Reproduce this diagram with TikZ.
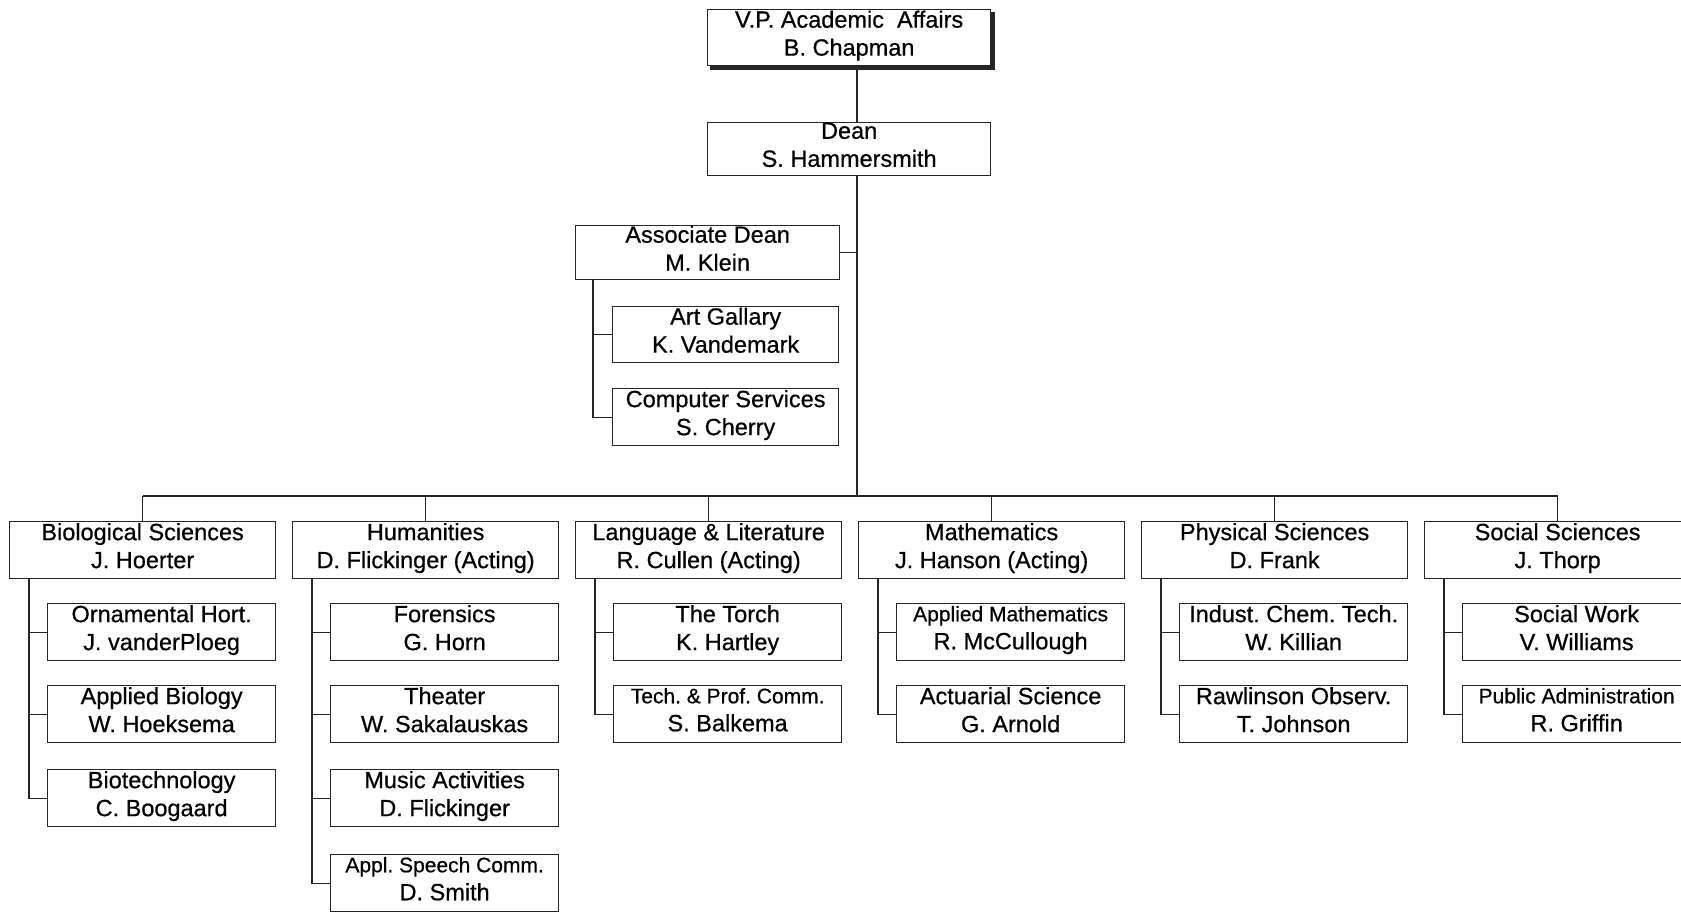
\documentclass[tikz,border=0pt]{standalone}
\usepackage{fontspec}
\setmainfont{Liberation Sans}[FakeBold=0.6]
\frenchspacing
\begin{document}
\begin{tikzpicture}[x=1pt,y=-1pt,
  box/.style={draw=black!85, line width=1.3pt, fill=white, align=center, inner sep=0pt, anchor=north west, font=\fontsize{23.5}{28}\selectfont\frenchspacing, execute at end node={\rule[-9pt]{0pt}{0pt}}},
  dept/.style={box, minimum width=266pt, minimum height=57pt},
  subbox/.style={box, minimum width=228pt, minimum height=57pt},
  conn/.style={draw=black!85, line width=1.3pt}]
\useasboundingbox (0,0) rectangle (1681,913);
\newcommand{\smline}[1]{{\fontsize{21}{28}\selectfont #1}}
% top
\node[box, minimum width=283pt, minimum height=56pt] (vp) at (707,9) {V.P. Academic\ \ Affairs\\B. Chapman};
\draw[black!85, line width=3.5pt] ([shift={(1.5,3)}]vp.north east) -- ([shift={(1.5,1.5)}]vp.south east) -- ([shift={(3,1.5)}]vp.south west);
\node[box, minimum width=283pt, minimum height=53pt] (dean) at (707,122) {Dean\\S. Hammersmith};
\node[box, minimum width=264pt, minimum height=53pt] (ad) at (575,225) {Associate Dean\\M. Klein};
\node[box, minimum width=226pt, minimum height=56pt] (art) at (612,306) {Art Gallary\\K. Vandemark};
\node[box, minimum width=226pt, minimum height=57pt] (cs) at (612,388) {Computer Services\\S. Cherry};
\coordinate (trunk) at (857,496);
\draw[conn] (vp.south -| trunk) -- (dean.north -| trunk);
\draw[conn] (dean.south -| trunk) -- (trunk);
\draw[conn] (ad.east) -- (ad.east -| trunk);
\coordinate (adsp) at ([xshift=18pt]ad.south west);
\draw[conn] (adsp) |- (cs.west);
\draw[conn] (adsp |- art.west) -- (art.west);
% departments
\node[dept] (bio) at (9,521) {Biological Sciences\\J. Hoerter};
\node[dept] (hum) at (292,521) {Humanities\\D. Flickinger (Acting)};
\node[dept] (lang) at (575,521) {Language \& Literature\\R. Cullen (Acting)};
\node[dept] (math) at (858,521) {Mathematics\\J. Hanson (Acting)};
\node[dept] (phys) at (1141,521) {Physical Sciences\\D. Frank};
\node[dept] (soc) at (1424,521) {Social Sciences\\J. Thorp};
\draw[conn] (bio.north |- trunk) -- (soc.north |- trunk);
\foreach \d in {bio,hum,lang,math,phys,soc}{
  \draw[conn] (\d.north |- trunk) -- (\d.north);
}
% sub units
\node[subbox] (bio1) at (47,603) {Ornamental Hort.\\J. vanderPloeg};
\node[subbox] (bio2) at (47,685) {Applied Biology\\W. Hoeksema};
\node[subbox] (bio3) at (47,769) {Biotechnology\\C. Boogaard};
\node[subbox] (hum1) at (330,603) {Forensics\\G. Horn};
\node[subbox] (hum2) at (330,685) {Theater\\W. Sakalauskas};
\node[subbox] (hum3) at (330,769) {Music Activities\\D. Flickinger};
\node[subbox] (hum4) at (330,854) {\smline{Appl. Speech Comm.}\\D. Smith};
\node[subbox] (lang1) at (613,603) {The Torch\\K. Hartley};
\node[subbox] (lang2) at (613,685) {\smline{Tech. \& Prof. Comm.}\\S. Balkema};
\node[subbox] (math1) at (896,603) {\smline{Applied Mathematics}\\R. McCullough};
\node[subbox] (math2) at (896,685) {Actuarial Science\\G. Arnold};
\node[subbox] (phys1) at (1179,603) {Indust. Chem. Tech.\\W. Killian};
\node[subbox] (phys2) at (1179,685) {Rawlinson Observ.\\T. Johnson};
\node[subbox] (soc1) at (1462,603) {Social Work\\V. Williams};
\node[subbox] (soc2) at (1462,685) {\smline{Public Administration}\\R. Griffin};
% spines
\foreach \d/\last/\others in {bio/bio3/{bio1,bio2}, hum/hum4/{hum1,hum2,hum3}, lang/lang2/{lang1}, math/math2/{math1}, phys/phys2/{phys1}, soc/soc2/{soc1}}{
  \coordinate (\d sp) at ([xshift=20pt]\d.south west);
  \draw[conn] (\d sp) |- (\last.west);
  \foreach \s in \others { \draw[conn] (\d sp |- \s.west) -- (\s.west); }
}
\end{tikzpicture}
\end{document}
